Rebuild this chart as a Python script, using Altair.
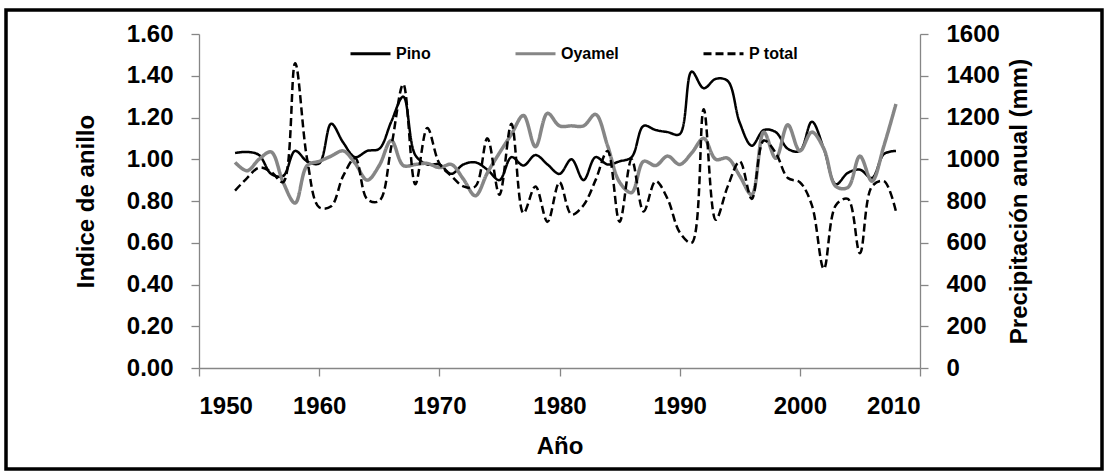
import altair as alt
import pandas as pd

years = list(range(1953, 2009))

pino = [1.03, 1.035, 1.02, 0.93, 0.92, 1.04, 0.99, 0.98, 1.17, 1.08,
        1.01, 1.04, 1.05, 1.18, 1.30, 1.02, 0.975, 0.975, 0.93, 0.975,
        0.985, 0.95, 0.90, 1.01, 0.97, 1.02, 0.975, 0.93, 1.00, 0.90,
        1.01, 0.975, 0.99, 1.01, 1.16, 1.14, 1.13, 1.12, 1.42, 1.34,
        1.385, 1.375, 1.175, 1.065, 1.14, 1.13, 1.05, 1.04, 1.18, 1.05,
        0.88, 0.935, 0.95, 0.91, 1.025, 1.04]

oyamel = [0.985, 0.945, 1.0, 1.035, 0.89, 0.79, 0.97, 0.99, 1.015, 1.04,
          0.98, 0.90, 0.97, 1.09, 0.97, 0.975, 0.98, 0.96, 0.975, 0.905,
          0.825, 0.935, 1.03, 1.12, 1.21, 1.06, 1.22, 1.16, 1.16, 1.16,
          1.215, 1.065, 0.89, 0.84, 0.99, 0.97, 1.015, 0.975, 1.03, 1.10,
          1.0, 1.005, 0.92, 0.83, 1.13, 1.005, 1.165, 1.04, 1.13, 1.05,
          0.87, 0.865, 1.015, 0.895, 1.065, 1.265]

p_total = [850, 910, 960, 940, 890, 1460, 1000, 770, 775, 920,
           1005, 808, 800, 1060, 1360, 880, 1150, 980, 920, 870,
           870, 1100, 830, 1170, 742, 870, 700, 890, 735, 780,
           900, 1040, 700, 1000, 750, 895, 810, 650, 600, 1240,
           710, 870, 990, 810, 1090, 1030, 910, 890, 780, 475,
           780, 810, 550, 870, 895, 750]

series = ["Pino", "Oyamel", "P total"]
colors = ["#000000", "#868686", "#000000"]
dashes = [[1, 0], [1, 0], [8, 4]]

ring_ticks = [0, 0.2, 0.4, 0.6, 0.8, 1.0, 1.2, 1.4, 1.6]
prec_ticks = [0, 200, 400, 600, 800, 1000, 1200, 1400, 1600]
year_ticks = [1950, 1960, 1970, 1980, 1990, 2000, 2010]

df_pino = pd.DataFrame({"year": years, "value": pino, "serie": "Pino"})
df_oya = pd.DataFrame({"year": years, "value": oyamel, "serie": "Oyamel"})
df_p = pd.DataFrame({"year": years, "value": p_total, "serie": "P total"})

FONT = "Liberation Sans"

legend = alt.Legend(
    title=None, orient="none", legendX=150, legendY=-2, direction="horizontal",
    symbolType="stroke", symbolSize=1600, symbolStrokeWidth=3,
    labelFontSize=16, labelFont=FONT, labelFontWeight="bold", labelColor="#000000",
    labelOffset=4, columnPadding=78,
)
color = alt.Color("serie:N", scale=alt.Scale(domain=series, range=colors), legend=legend)
dash = alt.StrokeDash("serie:N", scale=alt.Scale(domain=series, range=dashes), legend=legend)

x = alt.X("year:Q", scale=alt.Scale(domain=[1950, 2010], nice=False, zero=False),
          axis=alt.Axis(values=year_ticks, format="d", title="Año", titlePadding=16))

y_left = alt.Y("value:Q", scale=alt.Scale(domain=[0, 1.6], nice=False),
               axis=alt.Axis(values=ring_ticks, format=".2f", orient="left",
                             title="Indice de anillo", titlePadding=28))

y_right = alt.Y("value:Q", scale=alt.Scale(domain=[0, 1600], nice=False),
                axis=alt.Axis(values=prec_ticks, format="d", orient="right",
                              title="Precipitación anual (mm)", titleAngle=270,
                              titleBaseline="top", titlePadding=8))

line_pino = alt.Chart(df_pino).mark_line(interpolate="catmull-rom", strokeWidth=2.5).encode(
    x=x, y=y_left, color=color, strokeDash=dash)
line_oya = alt.Chart(df_oya).mark_line(interpolate="catmull-rom", strokeWidth=3.5).encode(
    x=x, y=y_left, color=color, strokeDash=dash)
line_p = alt.Chart(df_p).mark_line(interpolate="catmull-rom", strokeWidth=2.5).encode(
    x=x, y=y_right, color=color, strokeDash=dash)

frame = alt.Chart(alt.Data(values=[{"f": 1}])).mark_rect(
    fill=None, stroke="#000000", strokeWidth=3.5).encode(
    x=alt.value(-193), x2=alt.value(903), y=alt.value(-24), y2=alt.value(435))

left = alt.layer(line_pino, line_oya)
chart = alt.layer(left, line_p, frame).resolve_scale(y="independent").properties(
    width=721, height=334,
    autosize=alt.AutoSizeParams(type="none"),
    padding={"left": 199, "top": 34, "right": 187, "bottom": 103},
    background="white",
).configure_view(stroke=None).configure_axis(
    labelFont=FONT, labelFontSize=24, labelFontWeight="bold", labelColor="#000000",
    titleFont=FONT, titleFontSize=24, titleFontWeight="bold", titleColor="#000000",
    domainColor="#868686", tickColor="#868686", domainWidth=1.3, tickWidth=1.3,
    tickSize=8, labelPadding=18, grid=False,
)

chart.save("out.html", embed_options={"renderer": "svg", "actions": False})
